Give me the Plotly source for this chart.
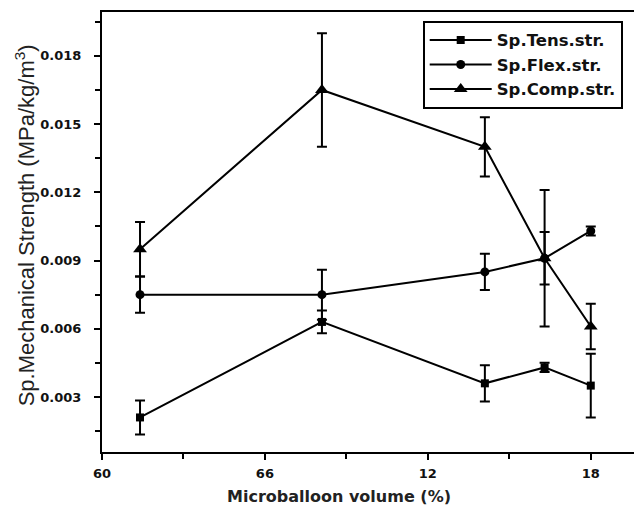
import plotly.graph_objects as go

# Data
volume = [61.4, 68.1, 74.1, 76.3, 78.0]

tens = [0.0021, 0.0063, 0.0036, 0.0043, 0.0035]
tens_err = [0.00075, 0.0005, 0.0008, 0.0002, 0.0014]

flex = [0.0075, 0.0075, 0.0085, 0.0091, 0.0103]
flex_err = [0.0008, 0.0011, 0.0008, 0.00115, 0.0002]

comp = [0.0095, 0.0165, 0.0140, 0.0091, 0.0061]
comp_err = [0.0012, 0.0025, 0.0013, 0.0030, 0.0010]

x_tickvals = [60, 66, 72, 78]
x_ticktext = ["60", "66", "12", "18"]
y_tickvals = [0.003, 0.006, 0.009, 0.012, 0.015, 0.018]
y_ticktext = ["0.003", "0.006", "0.009", "0.012", "0.015", "0.018"]

series = [
    ("Sp.Tens.str.", tens, tens_err, "square", 8),
    ("Sp.Flex.str.", flex, flex_err, "circle", 9),
    ("Sp.Comp.str.", comp, comp_err, "triangle-up", 12),
]

fig = go.Figure()
for name, vals, errs, sym, size in series:
    fig.add_trace(go.Scatter(
        x=volume, y=vals, name=name, mode="lines+markers",
        line=dict(color="black", width=2),
        marker=dict(symbol=sym, size=size, color="black"),
        error_y=dict(type="data", array=errs, visible=True,
                     color="black", thickness=2, width=5),
    ))

tickfont = dict(family="DejaVu Sans", size=13, weight="bold", color="#111")

# page body adds an 8px offset; the figure is sized to fill the rest
fig.update_layout(
    width=634, height=507,
    margin=dict(l=94, r=1, t=4, b=63),
    paper_bgcolor="white", plot_bgcolor="white",
    font=dict(family="Liberation Sans, Arial, sans-serif", color="black"),
    showlegend=True,
    legend=dict(
        x=0.595, y=0.98, xanchor="left", yanchor="top",
        bordercolor="black", borderwidth=2, bgcolor="white",
        font=dict(family="DejaVu Sans", size=16.5, weight="bold", color="#111"),
        tracegroupgap=0, itemwidth=62,
    ),
)

fig.update_xaxes(
    range=[60, 79.85], showgrid=False, zeroline=False, automargin=False,
    showline=True, linecolor="black", linewidth=2, mirror=True,
    ticks="outside", ticklen=6, tickwidth=2, tickcolor="black",
    tickvals=x_tickvals, ticktext=x_ticktext,
    tickfont=tickfont, ticklabelstandoff=2,
    minor=dict(tickvals=[63, 69, 75], ticks="outside", ticklen=5,
               tickwidth=2, tickcolor="black"),
)
fig.update_yaxes(
    range=[0.00058, 0.01993], showgrid=False, zeroline=False, automargin=False,
    showline=True, linecolor="black", linewidth=2, mirror=False,
    ticks="outside", ticklen=6, tickwidth=2, tickcolor="black",
    tickvals=y_tickvals, ticktext=y_ticktext,
    tickfont=tickfont, ticklabelstandoff=10,
    minor=dict(tickvals=[0.0015, 0.0045, 0.0075, 0.0105, 0.0135, 0.0165, 0.0195],
               ticks="outside", ticklen=5, tickwidth=2, tickcolor="black"),
)

fig.add_annotation(
    text="Sp.Mechanical Strength (MPa/kg/m<sup>3</sup>)",
    xref="paper", yref="paper", x=-0.143, y=0.515,
    xanchor="center", yanchor="middle",
    textangle=-90, showarrow=False,
    font=dict(size=22, color="#222"),
)
fig.add_annotation(
    text="Microballoon volume (%)",
    xref="paper", yref="paper", x=0.44, y=-0.102,
    xanchor="center", yanchor="middle",
    showarrow=False,
    font=dict(family="DejaVu Sans", size=16, weight="bold", color="#222"),
)

fig.write_html("out.html")
